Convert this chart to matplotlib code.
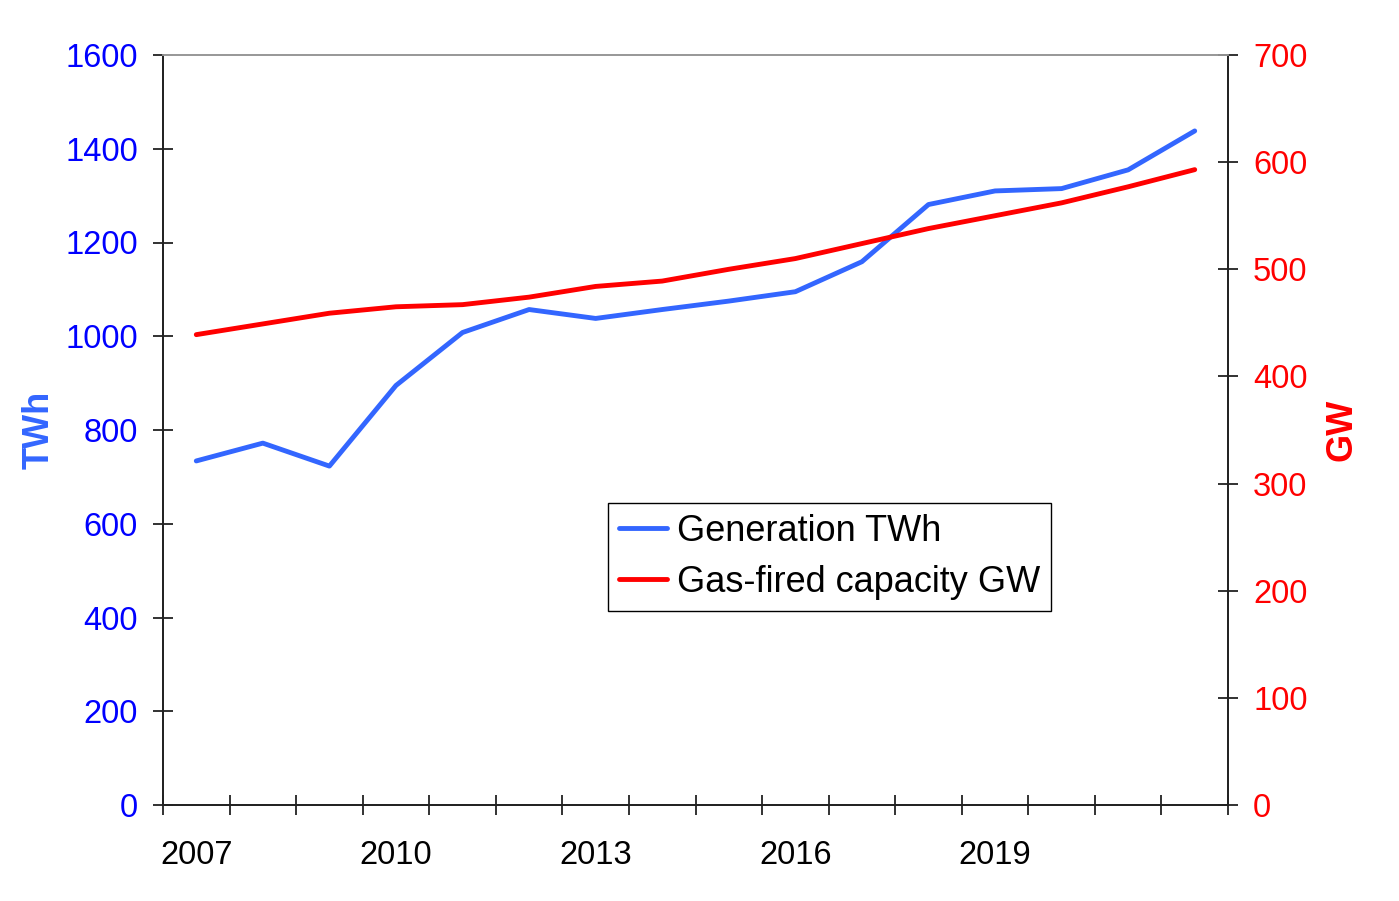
import matplotlib
matplotlib.use("Agg")
import matplotlib.pyplot as plt

plt.rcParams['font.family'] = ['Liberation Sans', 'DejaVu Sans']

# data
years = list(range(2007, 2023))
generation_twh = [734, 772, 723, 895, 1008, 1057, 1038, 1057, 1075, 1095,
                  1159, 1281, 1310, 1315, 1355, 1438]
capacity_gw = [439, 449, 459, 465, 467, 474, 484, 489, 500, 510,
               524, 538, 550, 562, 577, 593]
year_labels = [2007, 2010, 2013, 2016, 2019]

blue = '#3366ff'
red = '#ff0000'
fs = 23.5

fig = plt.figure(figsize=(13.99, 9.01), dpi=100)
ax = fig.add_axes([163 / 1399, 1 - 805 / 901, 1065 / 1399, 750 / 901])
ax2 = ax.twinx()

l1, = ax.plot(years, generation_twh, color=blue, lw=3.5, solid_capstyle='round')
l2, = ax2.plot(years, capacity_gw, color=red, lw=3.5, solid_capstyle='round')

ax.set_xlim(2006.5, 2022.5)
ax.set_ylim(0, 1600)
ax2.set_ylim(0, 700)
ax.set_yticks(range(0, 1601, 200))
ax2.set_yticks(range(0, 701, 100))

# tick marks between the years, labels on every third year
ax.set_xticks([y - 0.5 for y in years] + [2022.5])
ax.set_xticklabels([])
ax.set_xticks(year_labels, minor=True)
ax.set_xticklabels([str(y) for y in year_labels], minor=True)
ax.tick_params(axis='x', which='major', direction='inout', length=14, width=1.3,
               color='#222222')
ax.tick_params(axis='x', which='minor', length=0, pad=25, labelsize=fs)

ax.tick_params(axis='y', direction='inout', length=14, width=1.3, color='#222222',
               labelcolor='#0000ff', labelsize=fs, pad=11)
ax2.tick_params(axis='y', direction='inout', length=14, width=1.3, color='#222222',
                labelcolor=red, labelsize=fs, pad=11)

for a in (ax, ax2):
    a.spines['top'].set_color('#999999')
    a.spines['top'].set_linewidth(1.3)
    for s in ('left', 'right', 'bottom'):
        a.spines[s].set_color('#222222')
        a.spines[s].set_linewidth(1.3)

ax.set_ylabel('TWh', color=blue, fontsize=26, fontweight='bold')
ax.yaxis.label.set_verticalalignment('center')
ax.yaxis.set_label_coords(-0.1164, 0.5)
ax2.set_ylabel('GW', color=red, fontsize=26, fontweight='bold', rotation=90)
ax2.yaxis.label.set_verticalalignment('center')
ax2.yaxis.set_label_coords(1.107, 0.5)

leg = ax2.legend([l1, l2], ['Generation TWh', 'Gas-fired capacity GW'],
                 loc='upper left', bbox_to_anchor=(0.4178, 0.4027),
                 borderaxespad=0, fontsize=26, fancybox=False, framealpha=1,
                 edgecolor='black', handlelength=1.33, handletextpad=0.28,
                 labelspacing=0.45, borderpad=0.3)
leg.get_frame().set_linewidth(1.0)

fig.savefig('out.png', dpi=100, facecolor='white')
